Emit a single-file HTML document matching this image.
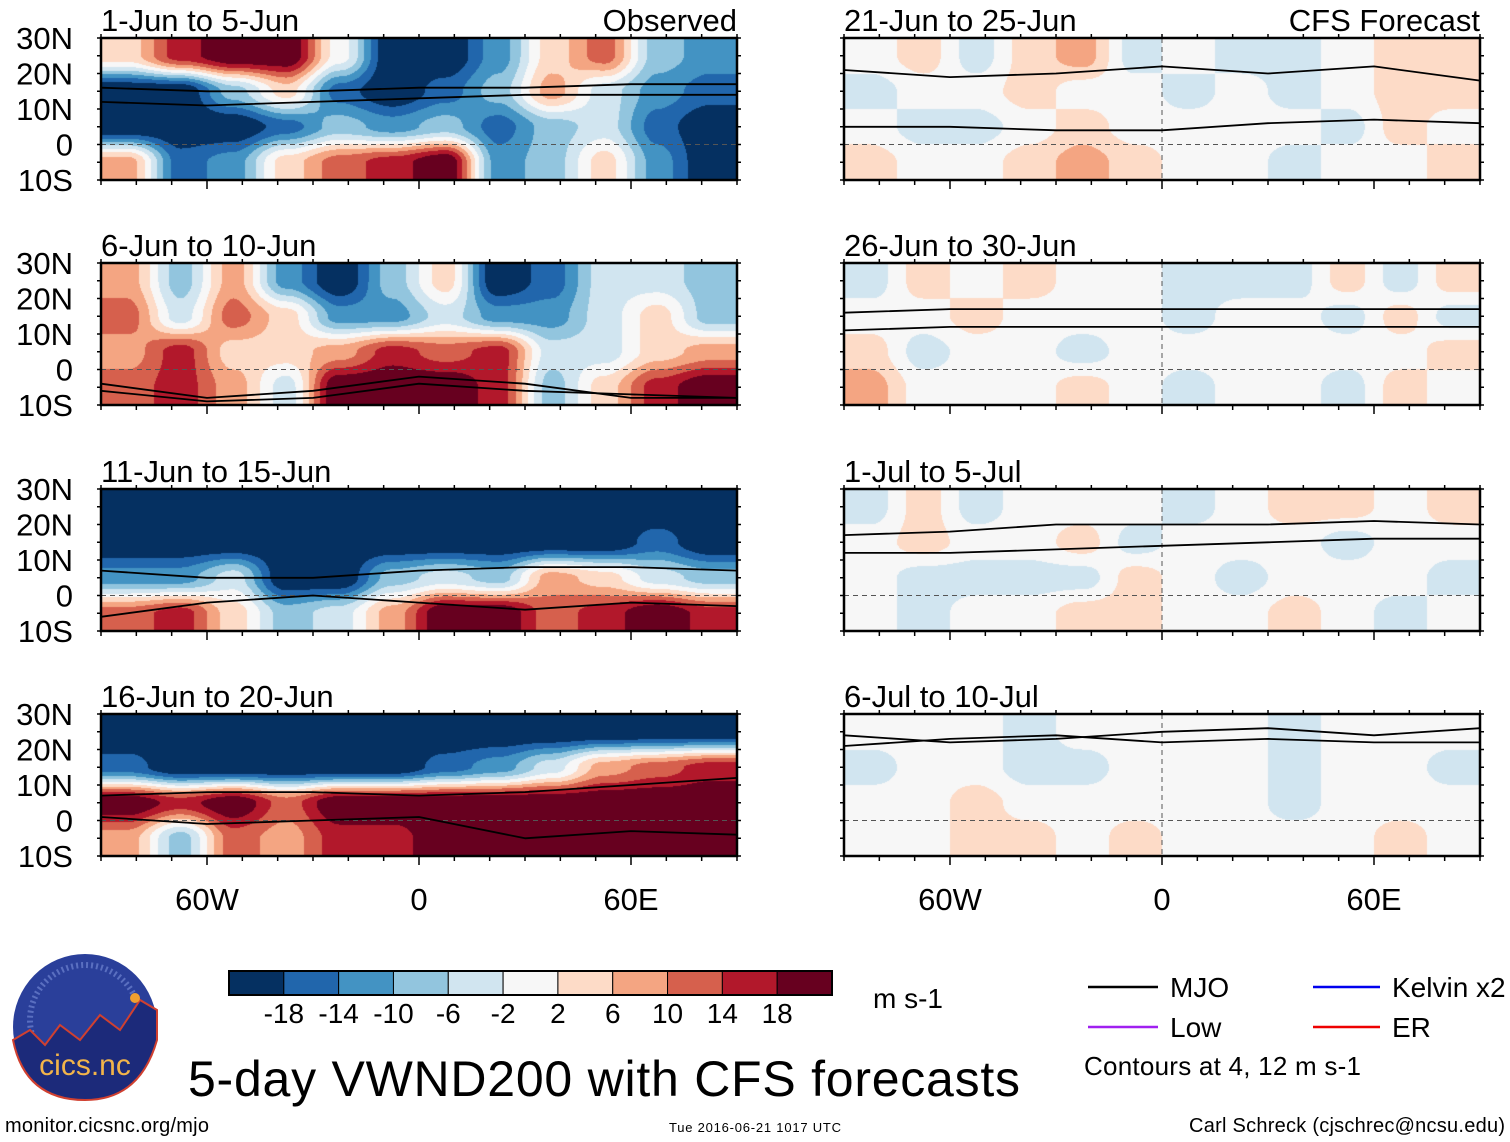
<!DOCTYPE html>
<html><head><meta charset="utf-8">
<style>
html,body{margin:0;padding:0;background:#fff;}
#wrap{position:relative;width:1510px;height:1142px;}
canvas{position:absolute;}
svg{position:absolute;left:0;top:0;display:block;font-family:"Liberation Sans Narrow","Liberation Sans",sans-serif;}
</style></head>
<body>
<div id="wrap">
<div id="maps"></div>
<svg id="chart" width="1510" height="1142" viewBox="0 0 1510 1142" xmlns="http://www.w3.org/2000/svg">
<g id="panels"></g>
<g id="footer">
  <g id="colorbar"></g>
  <text x="873" y="1008" font-size="28">m s-1</text>
  <g>
    <line x1="1088" y1="987" x2="1158" y2="987" stroke="#000" stroke-width="2.5"/>
    <text x="1170" y="997" font-size="28">MJO</text>
    <line x1="1313" y1="987" x2="1380" y2="987" stroke="#0000ee" stroke-width="2.5"/>
    <text x="1392" y="997" font-size="28">Kelvin x2</text>
    <line x1="1088" y1="1027" x2="1158" y2="1027" stroke="#a020f0" stroke-width="2.5"/>
    <text x="1170" y="1037" font-size="28">Low</text>
    <line x1="1313" y1="1027" x2="1380" y2="1027" stroke="#ee0000" stroke-width="2.5"/>
    <text x="1392" y="1037" font-size="28">ER</text>
    <text x="1084" y="1075" font-size="26" textLength="277">Contours at 4, 12 m s-1</text>
  </g>
  <g>
    <ellipse cx="85" cy="1027" rx="72" ry="73" fill="#2a3f9a"/>
    <ellipse cx="85" cy="1020" rx="55" ry="55" fill="none" stroke="#5a6fc0" stroke-width="6" stroke-dasharray="2 3"/>
    <path d="M13,1040 L30,1030 L45,1045 L60,1025 L80,1040 L100,1015 L120,1030 L140,1000 L157,1010 L157,1040 Q140,1100 85,1100 Q25,1100 13,1040Z" fill="#1c2a7a" stroke="#d04030" stroke-width="2"/>
    <circle cx="135" cy="998" r="5" fill="#f0a030"/>
    <text x="85" y="1075" font-size="30" fill="#f2b44a" text-anchor="middle" font-family="Liberation Sans, sans-serif">cics.nc</text>
  </g>
  <text x="188" y="1096" font-size="50" textLength="832">5-day VWND200 with CFS forecasts</text>
  <text x="5" y="1132" font-size="20" textLength="204">monitor.cicsnc.org/mjo</text>
  <text x="669" y="1132" font-size="13" textLength="172">Tue 2016-06-21 1017 UTC</text>
  <text x="1189" y="1132" font-size="20" textLength="316">Carl Schreck (cjschrec@ncsu.edu)</text>
</g>
</svg>
</div>
<script>
// ---- data ----
const levels = [-18,-14,-10,-6,-2,2,6,10,14,18];
const colors = ["#053061","#2166ac","#4393c3","#92c5de","#d1e5f0","#f7f7f7","#fddbc7","#f4a582","#d6604d","#b2182b","#67001f"];
const lonCenters = [-82.5,-67.5,-52.5,-37.5,-22.5,-7.5,7.5,22.5,37.5,52.5,67.5,82.5];
const latCenters = [25,15,5,-5];
const panelTitles = ["1-Jun to 5-Jun","6-Jun to 10-Jun","11-Jun to 15-Jun","16-Jun to 20-Jun","21-Jun to 25-Jun","26-Jun to 30-Jun","1-Jul to 5-Jul","6-Jul to 10-Jul"];
const latTickLabels = ["30N","20N","10N","0","10S"];
const latTicks = [30,20,10,0,-10];
const lonTickLabels = ["60W","0","60E"];
const lonTicks = [-60,0,60];
const vwnd1 = [[4,16,22,22,0,-22,-22,-12,4,12,-8,-12],[-22,-22,-8,4,-16,-22,-16,-8,8,-4,-12,-16],[-22,-22,-22,-16,-8,-12,-8,-16,-8,-4,-16,-22],[8,-16,-12,4,12,16,22,-12,-8,4,-12,-22]];
const vwnd2 = [[8,-8,8,-12,-22,-8,4,-22,-16,-4,-4,-8],[12,-4,12,4,-12,-12,-4,-12,-12,-4,4,-8],[8,16,4,4,8,16,12,16,-4,-4,4,8],[12,16,8,-4,22,22,22,16,-8,4,16,22]];
const vwnd3 = [[-22,-22,-22,-22,-22,-22,-22,-22,-22,-22,-22,-22],[-22,-22,-22,-22,-22,-22,-22,-22,-22,-22,-16,-22],[-12,-12,-4,-22,-22,-8,-4,-8,8,4,-4,-8],[12,16,4,-8,-4,8,22,22,12,16,22,16]];
const vwnd4 = [[-22,-22,-22,-22,-22,-22,-22,-22,-22,-22,-22,-22],[-16,-22,-22,-22,-22,-22,-16,-12,-4,8,12,16],[22,16,22,12,22,22,22,22,22,22,22,22],[8,-8,12,8,16,16,22,22,22,22,22,22]];
const vwnd5 = [[0,4,-4,4,8,-4,0,-4,-4,0,4,4],[-4,0,0,4,0,0,-4,0,-4,0,4,4],[0,-4,-4,0,4,0,0,0,0,-4,4,0],[4,0,0,4,8,4,0,0,-4,0,0,4]];
const vwnd6 = [[-4,4,0,4,0,0,-4,-4,-4,4,-4,4],[0,0,4,0,0,0,-4,0,0,-4,4,-4],[4,-4,0,0,-4,0,0,0,0,0,0,4],[8,0,0,0,4,0,-4,0,0,-4,4,0]];
const vwnd7 = [[-4,4,-4,0,0,0,-4,0,4,4,0,4],[0,4,0,0,4,-4,0,0,0,-4,0,0],[0,-4,-4,-4,-4,4,0,-4,0,0,0,-4],[0,-4,0,0,4,4,0,0,4,0,-4,0]];
const vwnd8 = [[0,0,0,-4,0,0,0,0,-4,0,0,0],[-4,0,0,-4,-4,0,0,0,-4,0,0,-4],[0,0,4,0,0,0,0,0,-4,0,0,0],[0,0,4,4,0,4,0,0,0,0,4,0]];
const allData = [vwnd1,vwnd2,vwnd3,vwnd4,vwnd5,vwnd6,vwnd7,vwnd8];
const contourLons = [-90,-60,-30,0,30,60,90];
const mjoA = [[16,15,15,16,16,17,17],[-4,-8,-6,-2,-4,-8,-8],[7,5,5,7,8,8,7],[7,8,8,7,8,10,12],[21,19,20,22,20,22,18],[16,17,17,17,17,17,17],[12,12,13,14,15,16,16],[24,22,23,25,26,24,26]];
const mjoB = [[12,11,12,13,14,14,14],[-6,-9,-8,-4,-6,-7,-8],[-6,-2,0,-2,-4,-2,-3],[1,-1,0,1,-5,-3,-4],[5,5,4,4,6,7,6],[11,12,12,12,12,12,12],[17,18,20,20,20,21,20],[21,23,24,22,23,22,22]];

const NS="http://www.w3.org/2000/svg";
const panelX=[101,844], panelY=[38,263,489,714], PW=636, PH=142;
function lonToX(x0,lon){return x0+(lon+90)/180*PW;}
function latToY(y0,lat){return y0+(30-lat)/40*PH;}
function colorIndex(v){let i=0;while(i<levels.length&&v>=levels[i])i++;return i;}
function hexRGB(h){return [parseInt(h.substr(1,2),16),parseInt(h.substr(3,2),16),parseInt(h.substr(5,2),16)];}
const rgb=colors.map(hexRGB);
function sample(data,lon,lat){
  let fi=(lon-lonCenters[0])/15, fj=(latCenters[0]-lat)/10;
  fi=Math.max(0,Math.min(lonCenters.length-1,fi)); fj=Math.max(0,Math.min(latCenters.length-1,fj));
  const i0=Math.min(Math.floor(fi),lonCenters.length-2), j0=Math.min(Math.floor(fj),latCenters.length-2);
  let a=fi-i0,b=fj-j0; a=a*a*(3-2*a); b=b*b*(3-2*b);
  const v00=data[j0][i0],v01=data[j0][i0+1],v10=data[j0+1][i0],v11=data[j0+1][i0+1];
  return (v00*(1-a)+v01*a)*(1-b)+(v10*(1-a)+v11*a)*b;
}
function mk(tag,attrs,parent){const e=document.createElementNS(NS,tag);for(const k in attrs)e.setAttribute(k,attrs[k]);parent.appendChild(e);return e;}
const root=document.getElementById('panels');
const maps=document.getElementById('maps');
for(let p=0;p<8;p++){
  const col=p<4?0:1,row=p%4,x0=panelX[col],y0=panelY[row];
  const cv=document.createElement('canvas');
  cv.width=PW;cv.height=PH;cv.style.left=x0+'px';cv.style.top=y0+'px';
  
  
  maps.appendChild(cv);
  const ctx=cv.getContext('2d');const img=ctx.createImageData(PW,PH);const data=allData[p];
  for(let py=0;py<PH;py++){const lat=30-(py+0.5)/PH*40;
    for(let px=0;px<PW;px++){const lon=-90+(px+0.5)/PW*180;
      const c=rgb[colorIndex(sample(data,lon,lat))];const k=(py*PW+px)*4;
      img.data[k]=c[0];img.data[k+1]=c[1];img.data[k+2]=c[2];img.data[k+3]=255;}}
  ctx.putImageData(img,0,0);
  const g=mk('g',{},root);
  
  
  mk('line',{x1:x0,x2:x0+PW,y1:latToY(y0,0),y2:latToY(y0,0),stroke:'#555','stroke-dasharray':'5 4','stroke-width':1},g);
  if(col===1) mk('line',{x1:lonToX(x0,0),x2:lonToX(x0,0),y1:y0,y2:y0+PH,stroke:'#555','stroke-dasharray':'5 4','stroke-width':1},g);
  [mjoA[p],mjoB[p]].forEach(arr=>{
    let d='';arr.forEach((lat,i)=>{d+=(i?'L':'M')+lonToX(x0,contourLons[i]).toFixed(1)+','+latToY(y0,lat).toFixed(1);});
    const l=mk('path',{d:d,fill:'none',stroke:'#000','stroke-width':1.8,'stroke-linejoin':'round'},g);
    
    
  });
  mk('rect',{x:x0,y:y0,width:PW,height:PH,fill:'none',stroke:'#000','stroke-width':2.5},g);
  for(let lon=-90;lon<=90;lon+=10){const x=lonToX(x0,lon),L=lonTicks.includes(lon)?9:5;
    mk('line',{x1:x,x2:x,y1:y0,y2:y0-4,stroke:'#000','stroke-width':1.5},g);
    mk('line',{x1:x,x2:x,y1:y0+PH,y2:y0+PH+L,stroke:'#000','stroke-width':1.5},g);}
  for(let lat=-10;lat<=30;lat+=5){const y=latToY(y0,lat);
    mk('line',{x1:x0,x2:x0-4,y1:y,y2:y,stroke:'#000','stroke-width':1.5},g);
    mk('line',{x1:x0+PW,x2:x0+PW+4,y1:y,y2:y,stroke:'#000','stroke-width':1.5},g);}
  const t=mk('text',{x:x0,y:y0-7,'font-size':31},g);t.textContent=panelTitles[p];
  
  
  if(p===0){const o=mk('text',{x:x0+PW,y:y0-7,'font-size':31,'text-anchor':'end'},g);o.textContent='Observed';}
  if(p===4){const o=mk('text',{x:x0+PW,y:y0-7,'font-size':31,'text-anchor':'end'},g);o.textContent='CFS Forecast';}
  if(col===0){latTicks.forEach((lat,i)=>{const tl=mk('text',{x:73,y:latToY(y0,lat)+11,'font-size':31,'text-anchor':'end'},g);tl.textContent=latTickLabels[i];
    
    });}
  if(row===3){lonTicks.forEach((lon,i)=>{const tl=mk('text',{x:lonToX(x0,lon),y:910,'font-size':31,'text-anchor':'middle'},g);tl.textContent=lonTickLabels[i];
    
    });}
}
const cb=document.getElementById('colorbar');
const cbx=229,cbw=603,cby=971,cbh=24,bw=cbw/colors.length;
colors.forEach((c,i)=>{const r=mk('rect',{x:cbx+i*bw,y:cby,width:bw,height:cbh,fill:c,stroke:'#000','stroke-width':1},cb);
  
  });
mk('rect',{x:cbx,y:cby,width:cbw,height:cbh,fill:'none',stroke:'#000','stroke-width':2},cb);
levels.forEach((v,i)=>{const t=mk('text',{x:cbx+(i+1)*bw,y:1023,'font-size':28,'text-anchor':'middle'},cb);t.textContent=String(v);
  
  });
</script>
</body></html>
